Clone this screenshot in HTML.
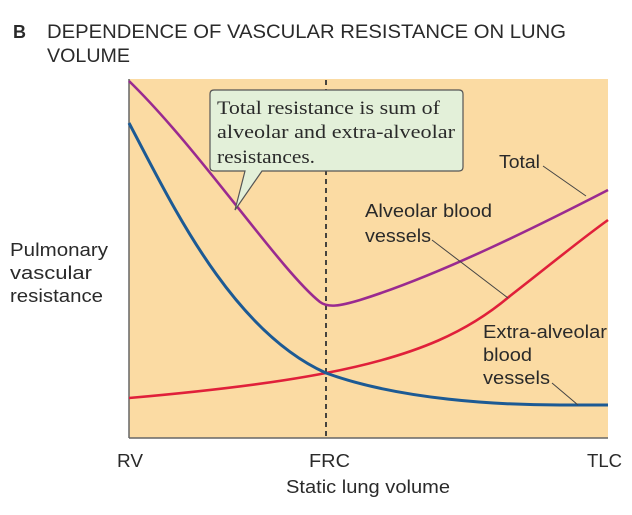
<!DOCTYPE html>
<html><head><meta charset="utf-8"><style>
html,body{margin:0;padding:0;background:#fff;}
svg{display:block;}
text{font-family:"Liberation Sans",Arial,sans-serif;fill:#2a2a2a;}
.s{font-family:"Liberation Serif",serif;}
</style></head><body>
<svg width="632" height="515" viewBox="0 0 632 515" xmlns="http://www.w3.org/2000/svg">
<rect width="632" height="515" fill="#fff"/>
<text x="13" y="38" font-size="18" font-weight="bold">B</text>
<text x="47" y="38" font-size="19" textLength="519" lengthAdjust="spacingAndGlyphs">DEPENDENCE OF VASCULAR RESISTANCE ON LUNG</text>
<text x="47" y="62" font-size="19" textLength="83" lengthAdjust="spacingAndGlyphs">VOLUME</text>
<rect x="129" y="79" width="479" height="359" fill="#fbdba3"/>
<line x1="129" y1="79" x2="129" y2="438" stroke="#666" stroke-width="1.5"/>
<line x1="129" y1="438" x2="608" y2="438" stroke="#666" stroke-width="1.5"/>
<line x1="326" y1="80" x2="326" y2="438" stroke="#333" stroke-width="1.8" stroke-dasharray="5,4"/>
<path d="M129,398 C220,390 280,382 326,373 C420,355 470,330 510,296 C550,265 580,240 608,220" fill="none" stroke="#e0203a" stroke-width="2.6"/>
<path d="M129,123 C170,200 230,330 326,373 C400,400 500,405 560,405 L608,405" fill="none" stroke="#1c5a94" stroke-width="3"/>
<path d="M129,81 C200,150 280,270 320,302 C328,308 340,306 360,300 C440,275 540,225 608,190" fill="none" stroke="#9a2a90" stroke-width="2.6"/>
<path d="M214,90 L459,90 Q463,90 463,94 L463,167 Q463,171 459,171 L262,171 L235,210 L245,171 L214,171 Q210,171 210,167 L210,94 Q210,90 214,90 Z" fill="#e3f0d9" stroke="#555" stroke-width="1.2"/>
<text class="s" x="217" y="114" font-size="19" textLength="223" lengthAdjust="spacingAndGlyphs">Total resistance is sum of</text>
<text class="s" x="217" y="138" font-size="19" textLength="238" lengthAdjust="spacingAndGlyphs">alveolar and extra-alveolar</text>
<text class="s" x="217" y="163" font-size="19" textLength="98" lengthAdjust="spacingAndGlyphs">resistances.</text>
<text x="499" y="168" font-size="18" textLength="41" lengthAdjust="spacingAndGlyphs">Total</text>
<line x1="543" y1="166" x2="586" y2="196" stroke="#444" stroke-width="1"/>
<text x="365" y="217" font-size="18" textLength="127" lengthAdjust="spacingAndGlyphs">Alveolar blood</text>
<text x="365" y="242" font-size="18" textLength="66" lengthAdjust="spacingAndGlyphs">vessels</text>
<line x1="432" y1="240" x2="508" y2="298" stroke="#444" stroke-width="1"/>
<text x="483" y="338" font-size="18" textLength="124" lengthAdjust="spacingAndGlyphs">Extra-alveolar</text>
<text x="483" y="361" font-size="18" textLength="49" lengthAdjust="spacingAndGlyphs">blood</text>
<text x="483" y="384" font-size="18" textLength="67" lengthAdjust="spacingAndGlyphs">vessels</text>
<line x1="552" y1="383" x2="578" y2="405" stroke="#444" stroke-width="1"/>
<text x="10" y="256" font-size="18" textLength="98" lengthAdjust="spacingAndGlyphs">Pulmonary</text>
<text x="10" y="279" font-size="18" textLength="82" lengthAdjust="spacingAndGlyphs">vascular</text>
<text x="10" y="302" font-size="18" textLength="93" lengthAdjust="spacingAndGlyphs">resistance</text>
<text x="117" y="467" font-size="18" textLength="26" lengthAdjust="spacingAndGlyphs">RV</text>
<text x="309" y="467" font-size="18" textLength="41" lengthAdjust="spacingAndGlyphs">FRC</text>
<text x="587" y="467" font-size="18" textLength="35" lengthAdjust="spacingAndGlyphs">TLC</text>
<text x="286" y="493" font-size="18" textLength="164" lengthAdjust="spacingAndGlyphs">Static lung volume</text>
</svg>
</body></html>
